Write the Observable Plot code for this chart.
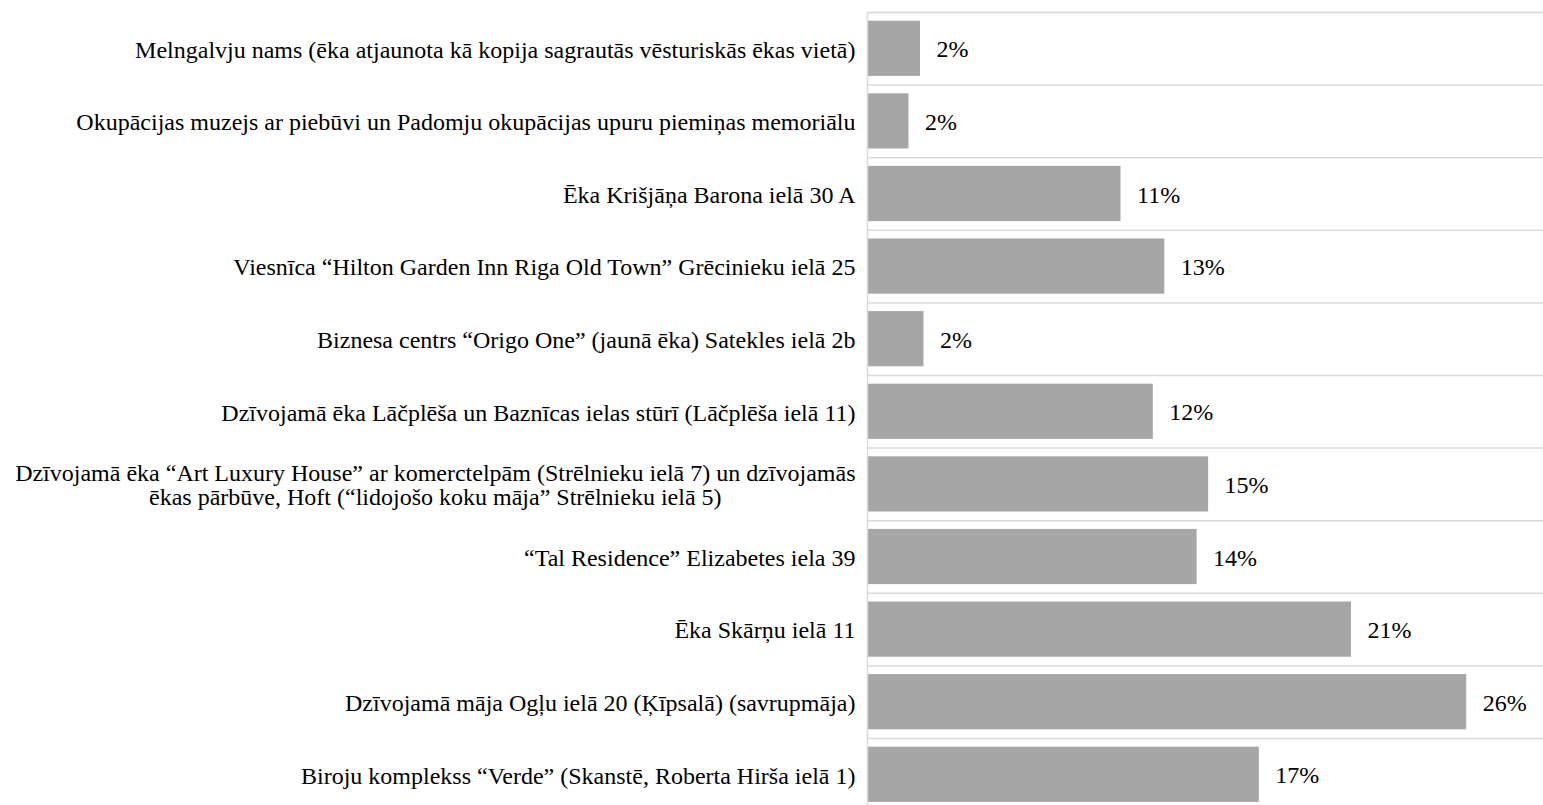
<!DOCTYPE html>
<html>
<head>
<meta charset="utf-8">
<script src="https://cdn.jsdelivr.net/npm/d3@7"></script>
<script src="https://cdn.jsdelivr.net/npm/@observablehq/plot@0.6"></script>
<style>
  html, body { margin: 0; padding: 0; background: #ffffff; }
  #chart svg { display: block; }
</style>
</head>
<body>
<div id="chart"></div>
<script>
const categories = [
  "Melngalvju nams (ēka atjaunota kā kopija sagrautās vēsturiskās ēkas vietā)",
  "Okupācijas muzejs ar piebūvi un Padomju okupācijas upuru piemiņas memoriālu",
  "Ēka Krišjāņa Barona ielā 30 A",
  "Viesnīca “Hilton Garden Inn Riga Old Town” Grēcinieku ielā 25",
  "Biznesa centrs “Origo One” (jaunā ēka) Satekles ielā 2b",
  "Dzīvojamā ēka Lāčplēša un Baznīcas ielas stūrī (Lāčplēša ielā 11)",
  "Dzīvojamā ēka “Art Luxury House” ar komerctelpām (Strēlnieku ielā 7) un dzīvojamās\nēkas pārbūve, Hoft (“lidojošo koku māja” Strēlnieku ielā 5)",
  "“Tal Residence” Elizabetes iela 39",
  "Ēka Skārņu ielā 11",
  "Dzīvojamā māja Ogļu ielā 20 (Ķīpsalā) (savrupmāja)",
  "Biroju komplekss “Verde” (Skanstē, Roberta Hirša ielā 1)"
];
const values = [2.3, 1.8, 11.0, 12.9, 2.45, 12.4, 14.8, 14.3, 21.0, 26.0, 17.0];
const xMax = 29.33;

const data = categories.map((c, i) => ({category: c, value: values[i]}));
const fmt = v => Math.round(v) + "%";

const W = 1543, H = 805;
const plotTop = 12, step = 72.6;
const font = "'Liberation Serif', 'Times New Roman', serif";

const chart = Plot.plot({
  width: W,
  height: H,
  marginLeft: 867,
  marginRight: 0,
  marginTop: plotTop,
  marginBottom: 0,
  style: {background: "#ffffff", fontFamily: font, fontSize: "24px", color: "#000000", overflow: "hidden"},
  x: {domain: [0, xMax], axis: null},
  y: {type: "band", domain: categories, range: [plotTop, plotTop + step * categories.length], padding: 0, round: false},
  marks: [
    Plot.ruleY(categories, {y: d => d, x1: 0, x2: xMax, dy: -step / 2, stroke: "#d9d9d9", strokeWidth: 1.5}),
    Plot.barX(data, {y: "category", x: "value", fill: "#a6a6a6", insetTop: 8.7, insetBottom: 8.7}),
    Plot.ruleX([0], {stroke: "#d9d9d9", strokeWidth: 1.5}),
    Plot.text(data, {y: "category", x: "value", text: d => fmt(d.value), dx: 16, dy: 1, textAnchor: "start", fontSize: 24, fill: "#000000"}),
    Plot.axisY({tickSize: 0, tickPadding: 12, dy: 1, fontSize: 24, lineHeight: 1.02, fill: "#000000", label: null})
  ]
});

document.getElementById("chart").appendChild(chart);

// center the lines of multi-line labels relative to each other (block right-aligned)
d3.select(chart).selectAll("text").each(function() {
  const tspans = Array.from(this.querySelectorAll("tspan"));
  if (tspans.length < 2) return;
  const lens = tspans.map(t => t.getComputedTextLength());
  const m = Math.max(...lens);
  tspans.forEach((t, i) => t.setAttribute("x", -(m - lens[i]) / 2));
});
</script>
</body>
</html>
